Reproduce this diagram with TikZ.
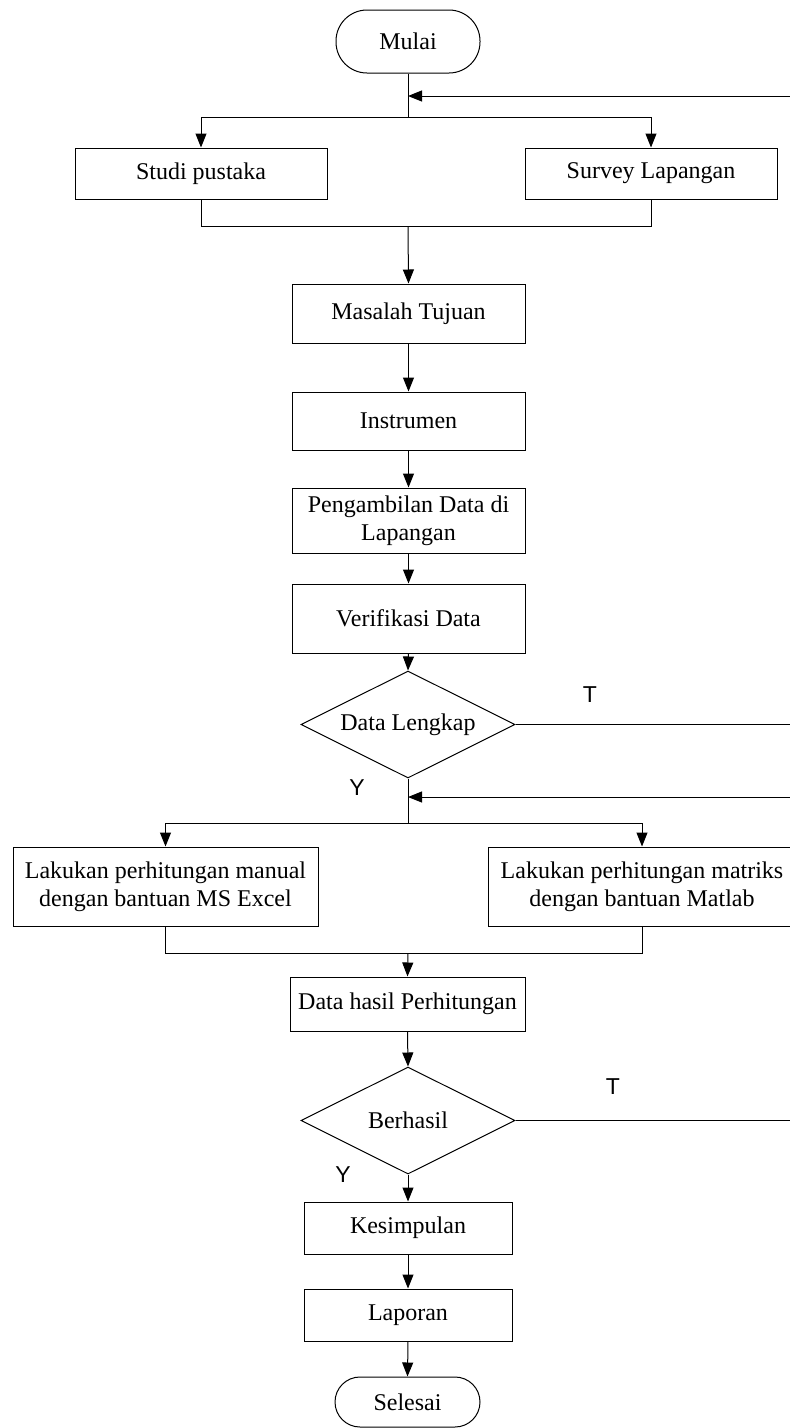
\documentclass[tikz,border=0pt]{standalone}
\usepackage{fontspec}
\setmainfont{Liberation Serif}
\newfontfamily\labelfont{Liberation Sans}
\usetikzlibrary{shapes.geometric,arrows.meta}
\begin{document}
\begin{tikzpicture}[x=1pt,y=-1pt,
  every node/.style={font=\fontsize{24}{28}\selectfont, inner sep=0pt, align=center},
  procbox/.style={draw, line width=1pt, rectangle},
  termbox/.style={draw, line width=1pt, rectangle, rounded corners=25pt},
  decbox/.style={draw, line width=1pt, diamond, aspect=2, minimum width=214pt, minimum height=107pt},
  yt/.style={font=\labelfont\fontsize{23}{26}\selectfont},
  conn/.style={line width=1pt},
  arr/.style={line width=1pt, -{Triangle[length=14pt,width=11pt]}}
]
\useasboundingbox (0,0) rectangle (790,1428);
\fill[white] (0,0) rectangle (790,1428);

% nodes
\node[termbox, minimum width=144pt, minimum height=63pt, rounded corners=31pt] (mulai) at (408,41.5) {Mulai};
\node[procbox, minimum width=252pt, minimum height=51pt] (studi) at (201,173.5) {Studi pustaka};
\node[procbox, minimum width=252pt, minimum height=51pt] (survey) at (651,173.5) {Survey Lapangan};
\node[procbox, minimum width=233pt, minimum height=59pt] (masalah) at (408.5,313.5) {Masalah Tujuan};
\node[procbox, minimum width=233pt, minimum height=58pt] (instrumen) at (408.5,421) {Instrumen};
\node[procbox, minimum width=233pt, minimum height=65pt] (ambil) at (408.5,520.5) {Pengambilan Data di\\Lapangan};
\node[procbox, minimum width=233pt, minimum height=69pt] (verif) at (408.5,618.5) {Verifikasi Data};
\node[decbox] (lengkap) at (408,724.5) {Data Lengkap};
\node[procbox, minimum width=305pt, minimum height=79pt] (excel) at (165.5,886.5) {Lakukan perhitungan manual\\dengan bantuan MS Excel};
\node[procbox, minimum width=308pt, minimum height=79pt] (matlab) at (642,886.5) {Lakukan perhitungan matriks\\dengan bantuan Matlab};
\node[procbox, minimum width=235pt, minimum height=54pt] (hasil) at (407.5,1004) {Data hasil Perhitungan};
\node[decbox] (berhasil) at (408,1120.5) {Berhasil};
\node[procbox, minimum width=208pt, minimum height=52pt] (simpul) at (408,1228) {Kesimpulan};
\node[procbox, minimum width=208pt, minimum height=52pt] (lapor) at (408,1315) {Laporan};
\node[termbox, minimum width=145pt, minimum height=50pt] (selesai) at (407.5,1402) {Selesai};

% labels
\node[yt] (t1) at (590,695) {T};
\node[yt] (y1) at (357,788) {Y};
\node[yt] (t2) at (613,1087) {T};
\node[yt] (y2) at (343,1175) {Y};

% coordinates
\coordinate (fb1) at (790,96);
\coordinate (j1) at (408,96);
\coordinate (s1) at (408,117);
\coordinate (m1) at (408,226);
\coordinate (e1) at (790,724.5);
\coordinate (fb2) at (790,797);
\coordinate (j2) at (408,797);
\coordinate (s2) at (408,823);
\coordinate (m2) at (408,953);
\coordinate (e2) at (790,1120.5);

% connectors
\draw[conn] (mulai.south) -- (s1);
\draw[arr] (fb1) -- (j1);
\draw[arr] (s1) -| (studi.north);
\draw[arr] (s1) -| (survey.north);
\draw[conn] (studi.south) |- (m1);
\draw[conn] (survey.south) |- (m1);
\draw[arr] (m1) -- (masalah.north);
\draw[arr] (masalah.south) -- (instrumen.north);
\draw[arr] (instrumen.south) -- (ambil.north);
\draw[arr] (ambil.south) -- (verif.north);
\draw[arr] (verif.south) -- (lengkap.north);
\draw[conn] (lengkap.east) -- (e1);
\draw[conn] (lengkap.south) -- (s2);
\draw[arr] (fb2) -- (j2);
\draw[arr] (s2) -| (excel.north);
\draw[arr] (s2) -| (matlab.north);
\draw[conn] (excel.south) |- (m2);
\draw[conn] (matlab.south) |- (m2);
\draw[arr] (m2) -- (hasil.north);
\draw[arr] (hasil.south) -- (berhasil.north);
\draw[conn] (berhasil.east) -- (e2);
\draw[arr] (berhasil.south) -- (simpul.north);
\draw[arr] (simpul.south) -- (lapor.north);
\draw[arr] (lapor.south) -- (selesai.north);
\end{tikzpicture}
\end{document}
